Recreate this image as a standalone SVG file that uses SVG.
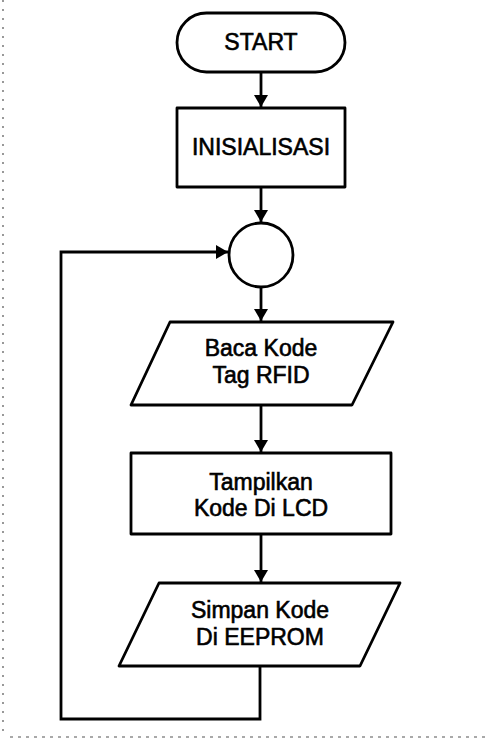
<svg xmlns="http://www.w3.org/2000/svg" width="485" height="749" viewBox="0 0 485 749">
<style>
.shape{fill:#fff;stroke:#000;stroke-width:2.8;stroke-linejoin:round}
.line{fill:none;stroke:#000;stroke-width:2.8}
.lbl{font-family:"Liberation Sans",Arial,sans-serif;font-size:23px;fill:#000;stroke:#000;stroke-width:0.6;text-anchor:middle}
.scan{fill:none;stroke:#555;stroke-width:1.2}
</style>
<defs>
<marker id="ah" viewBox="0 0 12 14" refX="12" refY="7" markerWidth="12" markerHeight="14" markerUnits="userSpaceOnUse" orient="auto">
<path d="M0,0 L12,7 L0,14 Z" fill="#000"/>
</marker>
</defs>
<rect width="485" height="749" fill="#fff"/>
<g id="scan-border">
<line class="scan" x1="3" y1="0" x2="3" y2="736" stroke-dasharray="2 7"/>
<line class="scan" x1="10" y1="737" x2="485" y2="737" stroke-dasharray="3 5"/>
</g>
<g id="connectors">
<line class="line" x1="261" y1="72" x2="261" y2="107" marker-end="url(#ah)"/>
<line class="line" x1="261" y1="187" x2="261" y2="222" marker-end="url(#ah)"/>
<line class="line" x1="261" y1="287" x2="261" y2="321" marker-end="url(#ah)"/>
<line class="line" x1="261" y1="405" x2="261" y2="452" marker-end="url(#ah)"/>
<line class="line" x1="261" y1="534" x2="261" y2="582" marker-end="url(#ah)"/>
<polyline class="line" points="260,666 260,719 61,719 61,252 228,252" marker-end="url(#ah)"/>
</g>
<g id="start">
<rect class="shape" x="177" y="13" width="168" height="59" rx="29.5" ry="29.5"/>
<text class="lbl" x="261" y="50">START</text>
</g>
<g id="inisialisasi">
<rect class="shape" x="177" y="108" width="168" height="79"/>
<text class="lbl" x="261" y="155">INISIALISASI</text>
</g>
<g id="connector-circle">
<circle class="shape" cx="261" cy="255" r="32"/>
</g>
<g id="baca-kode">
<polygon class="shape" points="170,322 393,322 352,405 131,405"/>
<text class="lbl" x="261" y="356">Baca Kode</text>
<text class="lbl" x="261" y="383">Tag RFID</text>
</g>
<g id="tampilkan">
<rect class="shape" x="131" y="453" width="260" height="81"/>
<text class="lbl" x="261" y="490">Tampilkan</text>
<text class="lbl" x="261" y="516">Kode Di LCD</text>
</g>
<g id="simpan">
<polygon class="shape" points="159,583 400,583 360,666 119,666"/>
<text class="lbl" x="260" y="618">Simpan Kode</text>
<text class="lbl" x="260" y="645">Di EEPROM</text>
</g>
</svg>
